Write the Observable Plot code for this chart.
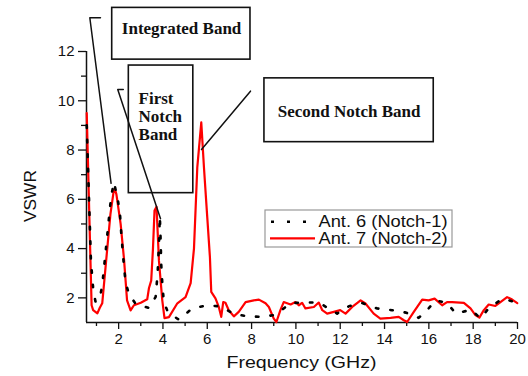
<!DOCTYPE html>
<html><head><meta charset="utf-8">
<script src="https://cdn.jsdelivr.net/npm/d3@7"></script>
<script src="https://cdn.jsdelivr.net/npm/@observablehq/plot@0.6"></script>
<style>
body{margin:0;background:#fff}
#chart{position:relative;width:528px;height:376px}
</style>
</head><body><div id="chart"></div>
<script>
// Ant. 7 (Notch-2) — red solid
const freq7 = [0.56,0.78,0.85,1.04,1.15,1.26,1.41,1.63,1.78,1.83,1.9,2.09,2.24,2.38,2.54,2.69,3.0,3.29,3.37,3.47,3.55,3.62,3.71,3.82,3.97,4.07,4.27,4.65,5.02,5.25,5.4,5.55,5.73,5.85,6.0,6.12,6.18,6.37,6.52,6.63,6.72,6.82,6.97,7.2,7.42,7.73,8.1,8.33,8.63,8.78,9.0,9.12,9.3,9.45,9.76,9.98,10.13,10.28,10.43,10.81,11.03,11.19,11.41,11.71,12.0,12.24,12.54,12.92,13.14,13.51,13.81,14.27,14.64,14.87,15.02,15.32,15.7,15.99,16.26,16.6,16.82,17.05,17.58,17.88,18.1,18.28,18.48,18.7,19.0,19.23,19.53,19.76,19.99];
const vswr7 = [9.5,1.7,1.5,1.37,1.6,1.78,3.25,5.4,6.35,6.43,6.2,5.0,3.6,1.9,1.49,1.7,1.8,1.94,2.4,2.7,4.0,5.55,5.7,3.5,1.9,1.18,1.22,1.78,2.03,2.6,4.0,7.3,9.12,7.3,5.27,3.65,2.24,1.98,1.63,1.23,1.83,1.8,1.5,1.25,1.43,1.83,1.9,1.93,1.78,1.63,1.16,1.02,1.5,1.83,1.73,1.83,1.7,1.8,1.57,1.63,1.81,1.5,1.36,1.43,1.5,1.36,1.63,1.9,1.77,1.36,1.16,1.19,1.23,1.09,1.02,1.43,1.93,1.9,1.97,1.7,1.83,1.83,1.8,1.57,1.3,1.2,1.5,1.73,1.67,1.83,2.03,1.93,1.79];
// Ant. 6 (Notch-1) — black dotted
const freq6 = [0.56,0.75,0.86,0.96,1.16,1.26,1.45,1.61,1.67,1.79,1.97,2.06,2.12,2.2,2.31,2.46,2.77,3.37,3.67,3.76,3.82,3.86,3.9,3.92,3.97,4.04,4.22,4.64,4.72,5.32,6.0,6.6,7.2,7.8,8.48,9.0,9.38,9.76,10.43,11.03,11.86,12.39,12.99,13.67,14.34,14.97,15.54,15.88,16.3,16.8,17.23,17.9,18.33,18.75,19.35,20.0];
const vswr6 = [9.0,3.5,2.28,1.83,2.03,2.51,4.2,5.67,6.15,6.69,5.95,5.42,4.6,3.7,2.64,2.17,1.75,1.59,2.04,3.0,4.2,5.3,4.2,3.4,2.6,1.83,1.43,1.16,1.12,1.57,1.7,1.65,1.35,1.25,1.23,1.3,1.52,1.79,1.81,1.81,1.36,1.66,1.79,1.57,1.5,1.4,1.19,1.46,1.9,1.8,1.36,1.52,1.17,1.63,1.97,1.8];

const xTicks = [2,4,6,8,10,12,14,16,18,20];
const xMinor = [1,3,5,7,9,11,13,15,17,19];
const yTicks = [2,4,6,8,10,12];
const yMinor = [3,5,7,9,11];
const seriesNames = ["Ant. 6 (Notch-1)", "Ant. 7 (Notch-2)"];
const xTitle = "Frequency (GHz)";
const yTitle = "VSWR";

// annotation boxes (data coordinates)
const boxText = ["Integrated Band", "First\nNotch\nBand", "Second Notch Band"];
const boxX1 = [1.71, 2.46, 8.58];
const boxX2 = [7.95, 5.37, 16.22];
const boxY1 = [11.67, 6.25, 8.32];
const boxY2 = [13.77, 11.43, 10.91];
const textX = [4.84, 2.90, 12.40];
const textY = [12.93, 9.36, 9.58];
const textAnchor = ["middle", "start", "middle"];
// leader lines
const leadId = ["a","a","a","b","b","b","c","c"];
const leadX = [1.18,0.70,1.66, 2.21,1.96,3.89, 7.95,5.74];
const leadY = [13.37,13.37,6.65, 10.46,10.46,5.21, 10.39,8.02];

const d7 = freq7.map((f,i)=>({f, v:vswr7[i]}));
const d6 = freq6.map((f,i)=>({f, v:vswr6[i]}));
const boxes = boxText.map((t,i)=>({t, x1:boxX1[i], x2:boxX2[i], y1:boxY1[i], y2:boxY2[i], tx:textX[i], ty:textY[i], a:textAnchor[i]}));
const leads = leadId.map((id,i)=>({id, x:leadX[i], y:leadY[i]}));

const serif = "'Liberation Serif','Times New Roman',serif";
const textOpts = {x: "tx", y: "ty", text: "t", fontFamily: serif, fontWeight: "bold", fontSize: 17, lineHeight: 1.05, fill: "#111"};
const chart = Plot.plot({
  width: 528, height: 376,
  marginLeft: 86, marginRight: 11, marginTop: 51, marginBottom: 54,
  style: {fontFamily: "'Liberation Sans',Arial,sans-serif", fontSize: "15px", background: "#fff", color: "#111", overflow: "visible"},
  x: {domain: [0.55, 20]},
  y: {domain: [1, 12]},
  marks: [
    Plot.axisX(xTicks, {tickSize: 7, tickPadding: 4, label: null, strokeWidth: 1.3}),
    Plot.axisX(xMinor, {tickSize: 4, tickFormat: () => "", label: null, strokeWidth: 1.3}),
    Plot.axisY(yTicks, {tickSize: 8, tickPadding: 4, label: null, strokeWidth: 1.3}),
    Plot.axisY(yMinor, {tickSize: 5, tickFormat: () => "", label: null, strokeWidth: 1.3}),
    Plot.ruleY([1], {stroke: "#111", strokeWidth: 1.5}),
    Plot.ruleX([0.55], {stroke: "#111", strokeWidth: 1.5}),
    Plot.line(d7, {x: "f", y: "v", stroke: "#ff0000", strokeWidth: 2.2, strokeLinejoin: "round"}),
    Plot.line(d6, {x: "f", y: "v", stroke: "#000", strokeWidth: 2.6, strokeDasharray: "2.5,12"}),
    Plot.rect(boxes, {x1: "x1", x2: "x2", y1: "y1", y2: "y2", fill: "none", stroke: "#111", strokeWidth: 1.6}),
    Plot.line(leads, {x: "x", y: "y", z: "id", stroke: "#111", strokeWidth: 1.5}),
    Plot.text(boxes.filter(d => d.a === "middle"), {...textOpts, textAnchor: "middle"}),
    Plot.text(boxes.filter(d => d.a === "start"), {...textOpts, textAnchor: "start"})
  ]
});
document.getElementById("chart").appendChild(chart);

const svg = d3.select(chart);
// axis titles
svg.append("text").attr("x", 301.5).attr("y", 368).attr("text-anchor", "middle")
  .attr("font-size", 16).attr("textLength", 150).attr("lengthAdjust", "spacingAndGlyphs")
  .attr("fill", "#111").text(xTitle);
svg.append("text").attr("transform", "translate(36,196) rotate(-90)").attr("text-anchor", "middle")
  .attr("font-size", 16).attr("textLength", 52).attr("lengthAdjust", "spacingAndGlyphs")
  .attr("fill", "#111").text(yTitle);

// legend
const lg = svg.append("g");
lg.append("rect").attr("x", 265).attr("y", 210).attr("width", 187).attr("height", 37)
  .attr("fill", "#fff").attr("stroke", "#999").attr("stroke-width", 1.2);
lg.append("line").attr("x1", 271).attr("x2", 316).attr("y1", 221.7).attr("y2", 221.7)
  .attr("stroke", "#000").attr("stroke-width", 2.6).attr("stroke-dasharray", "3,13");
lg.append("line").attr("x1", 270).attr("x2", 315).attr("y1", 238.3).attr("y2", 238.3)
  .attr("stroke", "#ff0000").attr("stroke-width", 2.2);
seriesNames.forEach((s,i) => {
  lg.append("text").attr("x", 318.5).attr("y", [221.7, 238.3][i]).attr("dy", "0.36em")
    .attr("text-anchor", "start")
    .attr("font-size", 16).attr("textLength", 129).attr("lengthAdjust", "spacingAndGlyphs")
    .attr("fill", "#111").text(s);
});
</script>
</body></html>
